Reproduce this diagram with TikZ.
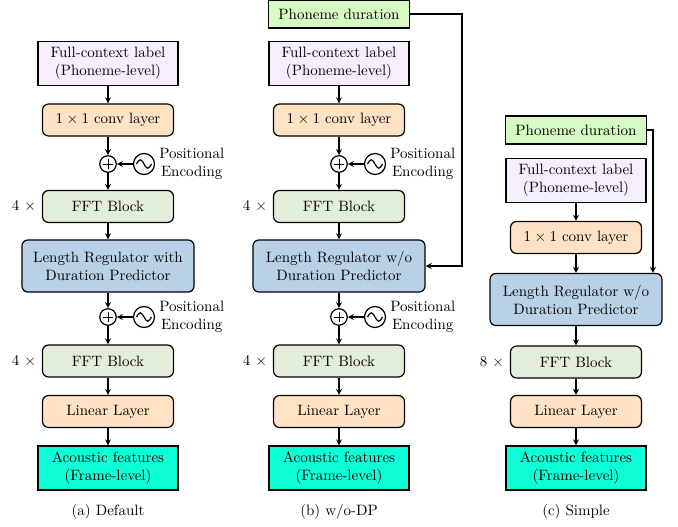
\documentclass[tikz,border=0pt]{standalone}
\usepackage{amsmath}
\usepackage{amssymb}
\usepackage{xcolor}
\usepackage{tikz}
\usetikzlibrary{calc}
\definecolor{ctxfill}{HTML}{F6EEFD}
\definecolor{convfill}{HTML}{FDE3C3}
\definecolor{fftfill}{HTML}{E2EED9}
\definecolor{lrfill}{HTML}{B8D1E6}
\definecolor{acfill}{HTML}{0EFFD8}
\definecolor{durfill}{HTML}{D5FBC3}
\tikzset{
  blk/.style={draw,thick,align=center,inner sep=1pt},
  ctxbox/.style={blk,fill=ctxfill,minimum width=93.3pt,minimum height=29.3pt},
  acbox/.style={blk,fill=acfill,minimum width=93.3pt,minimum height=29.3pt},
  durbox/.style={blk,fill=durfill,minimum width=94pt,minimum height=18.7pt},
  rbox/.style={blk,rounded corners=4pt,minimum width=87.3pt,minimum height=21.3pt},
  convbox/.style={rbox,fill=convfill},
  fftbox/.style={rbox,fill=fftfill},
  linbox/.style={rbox,fill=convfill},
  lrbox/.style={blk,rounded corners=4pt,fill=lrfill,minimum width=114.7pt,minimum height=34.7pt},
  addop/.style={circle,draw,thick,minimum size=11pt,inner sep=0pt,
    path picture={\draw[thin] ([xshift=-3.3pt]path picture bounding box.center) -- ++(6.6pt,0pt)
      ([yshift=-3.3pt]path picture bounding box.center) -- ++(0pt,6.6pt);}},
  sinop/.style={circle,draw,thick,minimum size=14pt,inner sep=0pt,
    path picture={\draw[thick] ([xshift=-5pt]path picture bounding box.center)
      sin ++(2.5pt,2.8pt) cos ++(2.5pt,-2.8pt) sin ++(2.5pt,-2.8pt) cos ++(2.5pt,2.8pt);}},
  penc/.style={anchor=west,align=center,inner sep=0pt},
  subcap/.style={inner sep=0pt}
}

\begin{document}
\begin{tikzpicture}[>=stealth,x=0.6667pt,y=-0.6667pt]
\useasboundingbox (0,0) rectangle (678,527);

% (a) Default
\node[ctxbox]  (ctxa)  at (108,63.5)  {Full-context label\\(Phoneme-level)};
\node[convbox] (conva) at (108,120)   {$1\times1$ conv layer};
\node[addop]   (adda1) at (108,164)   {};
\node[sinop]   (sina1) at (144,164)   {};
\node[penc]    (penca1) at (159,164)  {Positional\\Encoding};
\node[fftbox]  (fftaa) at (108,206.5) {FFT Block};
\node          (repa1) at (24,206.5)  {4 $\times$};
\node[lrbox]   (lra)   at (108,266)   {Length Regulator with\\Duration Predictor};
\node[addop]   (adda2) at (108,317)   {};
\node[sinop]   (sina2) at (144,317)   {};
\node[penc]    (penca2) at (159,317)  {Positional\\Encoding};
\node[fftbox]  (fftab) at (108,361)   {FFT Block};
\node          (repa2) at (24,361)    {4 $\times$};
\node[linbox]  (lina)  at (108,411.5) {Linear Layer};
\node[acbox]   (aca)   at (108,468)   {Acoustic features\\(Frame-level)};
\node[subcap]  (capa)  at (108,512)   {(a) Default};

\draw[thick,->] (ctxa) -- (conva);
\draw[thick,->] (conva) -- (adda1);
\draw[thick,->] (sina1) -- (adda1);
\draw[thick,->] (adda1) -- (fftaa);
\draw[thick,->] (fftaa) -- (lra);
\draw[thick,->] (lra) -- (adda2);
\draw[thick,->] (sina2) -- (adda2);
\draw[thick,->] (adda2) -- (fftab);
\draw[thick,->] (fftab) -- (lina);
\draw[thick,->] (lina) -- (aca);

% (b) w/o-DP
\node[durbox]  (durb)  at (339,14)    {Phoneme duration};
\node[ctxbox]  (ctxb)  at (339,63.5)  {Full-context label\\(Phoneme-level)};
\node[convbox] (convb) at (339,120)   {$1\times1$ conv layer};
\node[addop]   (addb1) at (339,164)   {};
\node[sinop]   (sinb1) at (375,164)   {};
\node[penc]    (pencb1) at (390,164)  {Positional\\Encoding};
\node[fftbox]  (fftba) at (339,206.5) {FFT Block};
\node          (repb1) at (255,206.5) {4 $\times$};
\node[lrbox]   (lrb)   at (339,266)   {Length Regulator w/o\\Duration Predictor};
\node[addop]   (addb2) at (339,317)   {};
\node[sinop]   (sinb2) at (375,317)   {};
\node[penc]    (pencb2) at (390,317)  {Positional\\Encoding};
\node[fftbox]  (fftbb) at (339,361)   {FFT Block};
\node          (repb2) at (255,361)   {4 $\times$};
\node[linbox]  (linb)  at (339,411.5) {Linear Layer};
\node[acbox]   (acb)   at (339,468)   {Acoustic features\\(Frame-level)};
\node[subcap]  (capb)  at (339,512)   {(b) w/o-DP};
\coordinate (bendb) at (462,14);

\draw[thick,->] (ctxb) -- (convb);
\draw[thick,->] (convb) -- (addb1);
\draw[thick,->] (sinb1) -- (addb1);
\draw[thick,->] (addb1) -- (fftba);
\draw[thick,->] (fftba) -- (lrb);
\draw[thick,->] (lrb) -- (addb2);
\draw[thick,->] (sinb2) -- (addb2);
\draw[thick,->] (addb2) -- (fftbb);
\draw[thick,->] (fftbb) -- (linb);
\draw[thick,->] (linb) -- (acb);
\draw[thick,->] (durb.east) -- (bendb) |- (lrb.east);

% (c) Simple
\node[durbox]  (durc)  at (576,130)   {Phoneme duration};
\node[ctxbox]  (ctxc)  at (576,180.5) {Full-context label\\(Phoneme-level)};
\node[convbox] (convc) at (576,237.5) {$1\times1$ conv layer};
\node[lrbox]   (lrc)   at (576,299.5) {Length Regulator w/o\\Duration Predictor};
\node[fftbox]  (fftc)  at (576,362)   {FFT Block};
\node          (repc)  at (492,362)   {8 $\times$};
\node[linbox]  (linc)  at (576,411.5) {Linear Layer};
\node[acbox]   (acc)   at (576,468)   {Acoustic features\\(Frame-level)};
\node[subcap]  (capc)  at (576,512)   {(c) Simple};
\coordinate (bendc) at (653,130);

\draw[thick,->] (ctxc) -- (convc);
\draw[thick,->] (convc) -- (lrc);
\draw[thick,->] (lrc) -- (fftc);
\draw[thick,->] (fftc) -- (linc);
\draw[thick,->] (linc) -- (acc);
\draw[thick,->] (durc.east) -- (bendc) -- (bendc |- lrc.north);
\end{tikzpicture}
\end{document}
